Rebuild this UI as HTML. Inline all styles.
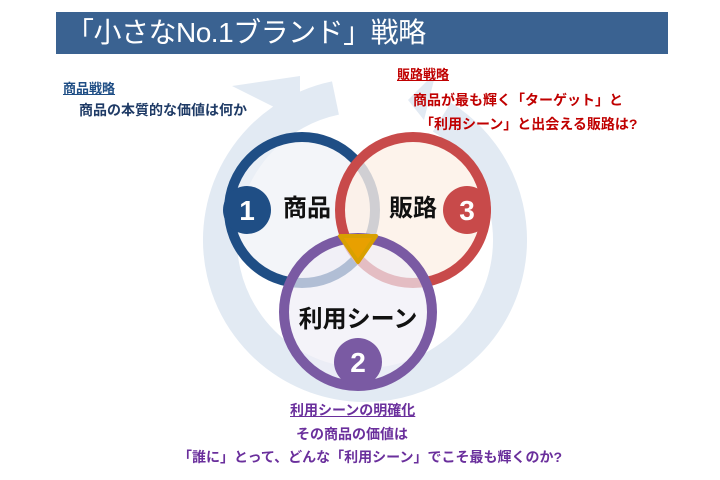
<!DOCTYPE html>
<html><head><meta charset="utf-8"><style>
body{margin:0;width:720px;height:480px;background:#fff;position:relative;overflow:hidden;font-family:"Liberation Sans","Noto Sans CJK JP",sans-serif;font-weight:bold}
.t{position:absolute;white-space:nowrap}
</style></head><body>
<div style="position:absolute;left:56px;top:12px;width:612px;height:42px;background:#3a6291"></div>
<div class="t" style="left:66px;top:14px;font-size:28px;color:#fff;font-weight:normal;line-height:38px;letter-spacing:-0.5px">「小さなNo.1ブランド」戦略</div>
<svg width="720" height="480" style="position:absolute;left:0;top:0">
<circle cx="365" cy="240" r="145" fill="none" stroke="#e2eaf3" stroke-width="34" stroke-dasharray="800 111" transform="rotate(-58 365 240)"/>
<polygon points="232,86 300,76 300,120" fill="#e2eaf3"/>
<polygon points="408,100 436,72 424,120" fill="#e2eaf3"/>
<circle cx="302" cy="210" r="73" fill="#eef1f7" fill-opacity="0.7" stroke="#1f4e85" stroke-width="10"/>
<circle cx="413" cy="210" r="73" fill="#fdf0e6" fill-opacity="0.8" stroke="#c84a4a" stroke-width="10"/>
<circle cx="358" cy="312" r="74" fill="#f0eef6" fill-opacity="0.7" stroke="#7a5aa3" stroke-width="10"/>
<polygon points="340,236 376,236 358,262" fill="#e8a000" stroke="#d8a000" stroke-width="4" stroke-linejoin="round"/>
<circle cx="247" cy="210" r="24" fill="#1f4e85"/>
<circle cx="467" cy="210" r="24" fill="#c84a4a"/>
<circle cx="358" cy="362" r="24" fill="#7a5aa3"/>
<text x="247" y="220" text-anchor="middle" font-size="28" fill="#fff" font-weight="bold" font-family="Liberation Sans">1</text>
<text x="467" y="220" text-anchor="middle" font-size="28" fill="#fff" font-weight="bold" font-family="Liberation Sans">3</text>
<text x="358" y="372" text-anchor="middle" font-size="28" fill="#fff" font-weight="bold" font-family="Liberation Sans">2</text>
<text x="307" y="216" text-anchor="middle" font-size="24" fill="#111" font-weight="bold" font-family="Noto Sans CJK JP">商品</text>
<text x="413" y="216" text-anchor="middle" font-size="24" fill="#111" font-weight="bold" font-family="Noto Sans CJK JP">販路</text>
<text x="358" y="327" text-anchor="middle" font-size="24" fill="#111" font-weight="bold" font-family="Noto Sans CJK JP">利用シーン</text>
</svg>
<div class="t" style="left:63px;top:78px;font-size:13px;color:#1f4e85;text-decoration:underline">商品戦略</div>
<div class="t" style="left:79px;top:100px;font-size:14px;color:#1f3b66">商品の本質的な価値は何か</div>
<div class="t" style="left:397px;top:64px;font-size:13px;color:#c00000;text-decoration:underline">販路戦略</div>
<div class="t" style="left:413px;top:90px;font-size:14px;color:#c00000">商品が最も輝く「ターゲット」と</div>
<div class="t" style="left:420px;top:114px;font-size:14px;color:#c00000">「利用シーン」と出会える販路は?</div>
<div class="t" style="left:290px;top:400px;font-size:14px;color:#6a2f9c;text-decoration:underline">利用シーンの明確化</div>
<div class="t" style="left:296px;top:424px;font-size:14px;color:#6a2f9c">その商品の価値は</div>
<div class="t" style="left:178px;top:447px;font-size:14px;color:#6a2f9c">「誰に」とって、どんな「利用シーン」でこそ最も輝くのか?</div>
</body></html>
